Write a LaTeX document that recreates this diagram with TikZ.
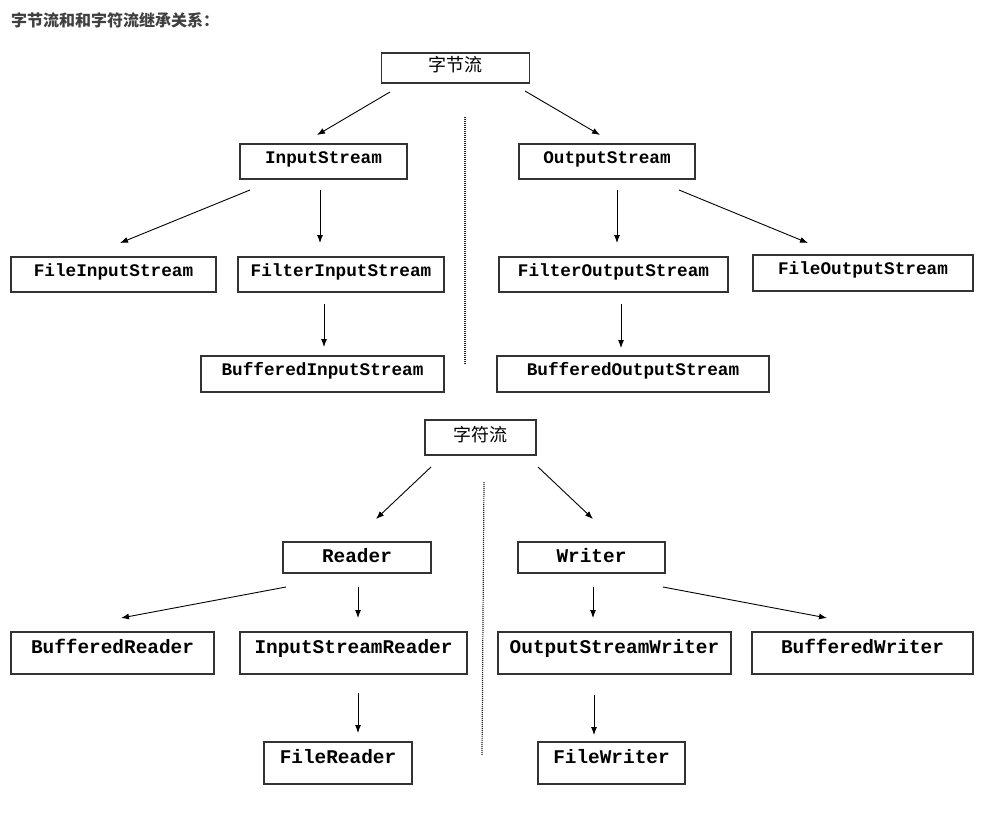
\documentclass[tikz,border=0pt]{standalone}
\usepackage{fontspec}
\newfontfamily\monob{Liberation Mono}
\newfontfamily\cjk{Noto Sans CJK SC}
\usetikzlibrary{arrows.meta}
\begin{document}
\begin{tikzpicture}[x=1pt,y=-1pt,
  box/.style={draw=black!80, line width=1.1pt, inner xsep=0pt, inner ysep=0pt, align=center},
  up/.style={box, font=\monob\bfseries\fontsize{17.7}{18}\selectfont, text height=19pt, text depth=16pt},
  upb/.style={box, font=\monob\bfseries\fontsize{17.7}{18}\selectfont, text height=19pt, text depth=17pt},
  lo/.style={box, font=\monob\bfseries\fontsize{19.4}{20}\selectfont, text height=21pt, text depth=21pt},
  mid/.style={box, font=\monob\bfseries\fontsize{19.4}{20}\selectfont, text height=20pt, text depth=11pt},
  zh/.style={box, font=\cjk\fontsize{18}{18}\selectfont},
  arr/.style={-{Latex[length=8pt,width=6pt]}, line width=0.9pt, black},
  sep/.style={line width=1.2pt, black!85, dash pattern=on 1pt off 1pt}
]
\path[use as bounding box, fill=white] (0,0) rectangle (989,816);

\node[anchor=west, font=\cjk\bfseries\fontsize{16}{16}\selectfont, text=black!75, inner sep=0pt] (title) at (11,20) {字节流和和字符流继承关系：};

% byte streams
\node[zh, minimum width=148pt, text height=19pt, text depth=11pt] (zj) at (455.5,68) {字节流};
\node[up, minimum width=167pt] (is) at (323.5,161.5) {InputStream};
\node[up, minimum width=176pt] (os) at (607,161.5) {OutputStream};
\node[up, minimum width=205pt] (fis) at (113.5,274.5) {FileInputStream};
\node[up, minimum width=206pt] (flis) at (341,274.5) {FilterInputStream};
\node[up, minimum width=229pt] (flos) at (613.5,274.5) {FilterOutputStream};
\node[upb, minimum width=220pt] (fos) at (863,273) {FileOutputStream};
\node[upb, minimum width=243pt] (bis) at (322.5,374) {BufferedInputStream};
\node[upb, minimum width=272pt] (bos) at (633,374) {BufferedOutputStream};

% char streams
\node[zh, minimum width=111pt, text height=21.5pt, text depth=13.5pt] (zf) at (480.5,437.5) {字符流};
\node[mid, minimum width=148pt] (rd) at (357,557.5) {Reader};
\node[mid, minimum width=147pt] (wr) at (591.5,557.5) {Writer};
\node[lo, minimum width=203pt] (brd) at (112.5,653) {BufferedReader};
\node[lo, minimum width=227pt] (isr) at (353.5,653) {InputStreamReader};
\node[lo, minimum width=233pt] (osw) at (614.5,653) {OutputStreamWriter};
\node[lo, minimum width=221pt] (bwr) at (862.5,653) {BufferedWriter};
\node[lo, minimum width=148pt] (frd) at (338,763) {FileReader};
\node[lo, minimum width=147pt] (fwr) at (611.5,763) {FileWriter};

% arrow end points
\coordinate (a1s) at (390,92);  \coordinate (a1e) at (317,135);
\coordinate (a2s) at (525,91);  \coordinate (a2e) at (600,135);
\coordinate (a3s) at (250,190); \coordinate (a3e) at (120,243);
\coordinate (a4s) at (320,190); \coordinate (a4e) at (320,243);
\coordinate (a5s) at (324,304); \coordinate (a5e) at (324,347);
\coordinate (a6s) at (617,190); \coordinate (a6e) at (617,243);
\coordinate (a7s) at (679,190); \coordinate (a7e) at (808,243);
\coordinate (a8s) at (621,304); \coordinate (a8e) at (621,348);
\coordinate (a9s) at (431,467); \coordinate (a9e) at (376,519);
\coordinate (a10s) at (538,467); \coordinate (a10e) at (593,519);
\coordinate (a11s) at (286,587); \coordinate (a11e) at (121,618);
\coordinate (a12s) at (358,587); \coordinate (a12e) at (358,618);
\coordinate (a13s) at (358,693); \coordinate (a13e) at (358,733);
\coordinate (a14s) at (593,587); \coordinate (a14e) at (593,618);
\coordinate (a15s) at (663,587); \coordinate (a15e) at (827,618);
\coordinate (a16s) at (594,695); \coordinate (a16e) at (594,735);
\coordinate (d1s) at (465,117); \coordinate (d1e) at (465,365);
\coordinate (d2s) at (484,482); \coordinate (d2e) at (482,755);

\foreach \i in {1,...,16} \draw[arr] (a\i s) -- (a\i e);
\draw[sep] (d1s) -- (d1e);
\draw[sep] (d2s) -- (d2e);
\end{tikzpicture}
\end{document}
